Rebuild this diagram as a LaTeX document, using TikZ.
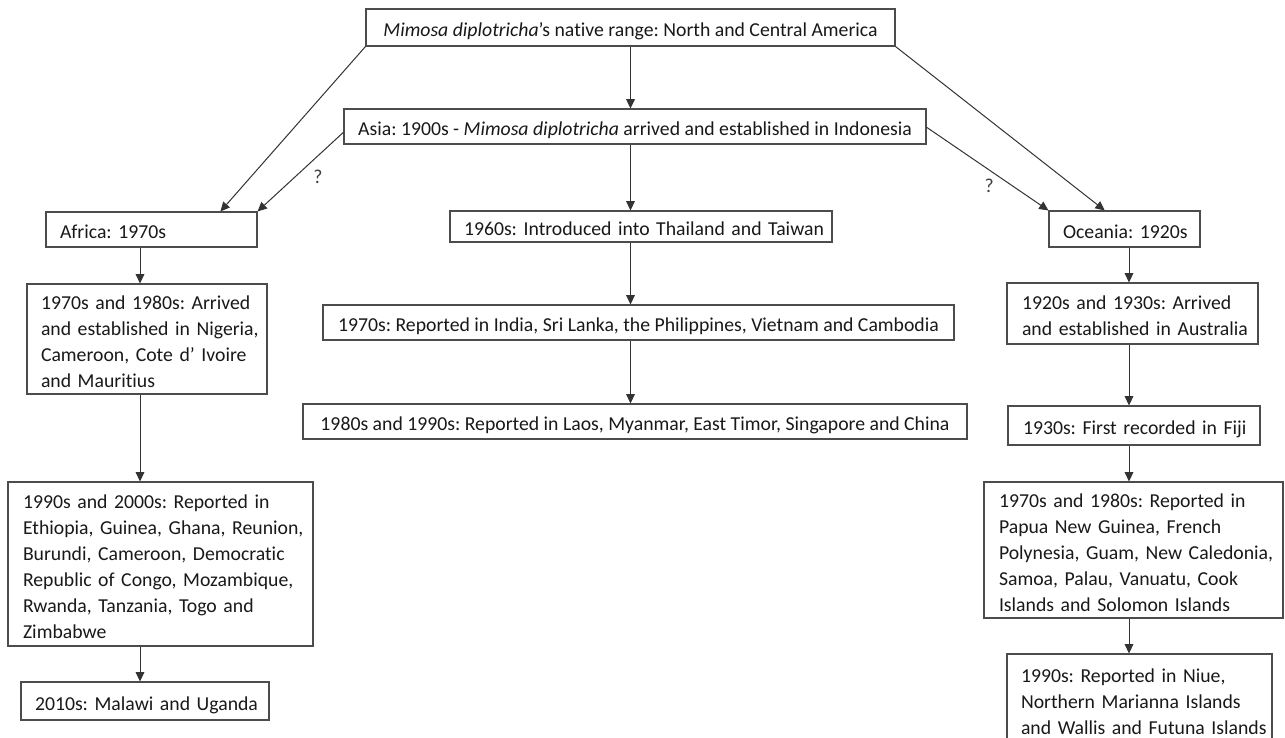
\documentclass[tikz,border=0pt]{standalone}
\usepackage{fontspec}
\setmainfont{Carlito}[Ligatures=NoCommon]
\usetikzlibrary{arrows.meta,calc}
\newcommand{\bxfont}{\frenchspacing\fontsize{14.8}{19.5}\selectfont}
\begin{document}
\begin{tikzpicture}[x=0.75pt,y=-0.75pt,
  bx/.style={draw=black!70, line width=0.8pt, rectangle, inner sep=0pt, font=\bxfont, text=black!90,
    text height=15.9pt, text depth=2pt},
  arr/.style={draw=black!80, line width=0.75pt, -{Triangle[length=7pt,width=6.5pt]}},
  thickarr/.style={arr, line width=1.1pt},
  qm/.style={font=\bxfont, text=black!75, inner sep=0pt}]
\clip (0,0) rectangle (1285,738);
\fill[white] (0,0) rectangle (1285,738);
\coordinate (ax) at (140,0);
\coordinate (ox) at (1129,0);

\node[bx, minimum width=396.75pt, minimum height=27.75pt] (top) at (630.5,27.5)
  {\textit{Mimosa diplotricha}’s native range: North and Central America};
\node[bx, minimum width=436.5pt, minimum height=26.25pt] (asia) at (635,126.5)
  {Asia: 1900s - \textit{Mimosa diplotricha} arrived and established in Indonesia};

\node[bx, minimum width=158.25pt, minimum height=26.25pt, align=left, text width=137.25pt] (africa) at (151.5,229.5)
  {\mbox{Africa: 1970s}};
\node[bx, minimum width=286.5pt, minimum height=23.25pt, align=left, text width=265.5pt] (c1960) at (641,226.5)
  {\mbox{1960s: Introduced into Thailand and Taiwan}};
\node[bx, minimum width=113.25pt, minimum height=27pt, align=left, text width=92.25pt] (oceania) at (1124.5,229)
  {\mbox{Oceania: 1920s}};

\node[bx, minimum width=180pt, minimum height=82.5pt, align=left, text width=159pt, text depth=60.5pt] (africa2) at (147,339)
  {\mbox{1970s and 1980s: Arrived}\\\mbox{and established in Nigeria,}\\\mbox{Cameroon, Cote d’ Ivoire}\\\mbox{and Mauritius}};
\node[bx, minimum width=473.25pt, minimum height=26.25pt] (a1970) at (638.5,322.5)
  {1970s: Reported in India, Sri Lanka, the Philippines, Vietnam and Cambodia};
\node[bx, minimum width=498pt, minimum height=26.25pt] (a1980) at (635,421.5)
  {1980s and 1990s: Reported in Laos, Myanmar, East Timor, Singapore and China};
\node[bx, minimum width=188.25pt, minimum height=45.75pt, align=left, text width=165.75pt, text depth=21.5pt] (oc2) at (1132.5,313.5)
  {\mbox{1920s and 1930s: Arrived}\\\mbox{and established in Australia}};
\node[bx, minimum width=189pt, minimum height=29.25pt, align=left, text width=166.5pt] (oc3) at (1134,425.5)
  {\mbox{1930s: First recorded in Fiji}};

\node[bx, minimum width=228.75pt, minimum height=123pt, align=left, text width=206.25pt, text depth=99.5pt] (africa3) at (160.5,564)
  {\mbox{1990s and 2000s: Reported in}\\\mbox{Ethiopia, Guinea, Ghana, Reunion,}\\\mbox{Burundi, Cameroon, Democratic}\\\mbox{Republic of Congo, Mozambique,}\\\mbox{Rwanda, Tanzania, Togo and}\\\mbox{Zimbabwe}};
\node[bx, minimum width=224.25pt, minimum height=102pt, align=left, text width=201.75pt, text depth=80pt] (oc4) at (1133.5,550)
  {\mbox{1970s and 1980s: Reported in}\\\mbox{Papua New Guinea, French}\\\mbox{Polynesia, Guam, New Caledonia,}\\\mbox{Samoa, Palau, Vanuatu, Cook}\\\mbox{Islands and Solomon Islands}};
\node[bx, minimum width=186pt, minimum height=28.5pt, align=left, text width=165pt] (africa4) at (145,701)
  {\mbox{2010s: Malawi and Uganda}};
\node[bx, minimum width=198.75pt, minimum height=68.25pt, align=left, text width=177.75pt, text depth=41pt] (oc5) at (1139.5,699.5)
  {\mbox{1990s: Reported in Niue,}\\\mbox{Northern Marianna Islands}\\\mbox{and Wallis and Futuna Islands}};

% central column
\draw[thickarr] (top.south) -- (top.south |- asia.north);
\draw[arr] (asia.south -| top.south) -- (c1960.north -| top.south);
\draw[arr] (c1960.south -| top.south) -- (a1970.north -| top.south);
\draw[arr] (a1970.south -| top.south) -- (a1980.north -| top.south);

% diagonals
\draw[arr] (top.south west) -- ($(africa.north west)!0.825!(africa.north east)$);
\draw[arr] ($(asia.north west)!0.66!(asia.south west)$) -- node[qm, pos=0.56, xshift=17pt] (q1) {?} (africa.north east);
\draw[arr] ($(asia.north east)!0.52!(asia.south east)$) -- node[qm, pos=0.71, xshift=-18pt] (q2) {?} (oceania.north west);
\draw[arr] (top.south east) -- ($(oceania.north west)!0.37!(oceania.north east)$);

% Africa column
\draw[arr] (africa.south -| ax) -- (africa2.north -| ax);
\draw[arr] (africa2.south -| ax) -- (africa3.north -| ax);
\draw[arr] (africa3.south -| ax) -- (africa4.north -| ax);

% Oceania column
\draw[arr] (oceania.south -| ox) -- (oc2.north -| ox);
\draw[arr] (oc2.south -| ox) -- (oc3.north -| ox);
\draw[arr] (oc3.south -| ox) -- (oc4.north -| ox);
\draw[arr] (oc4.south -| ox) -- (oc5.north -| ox);
\end{tikzpicture}
\end{document}
